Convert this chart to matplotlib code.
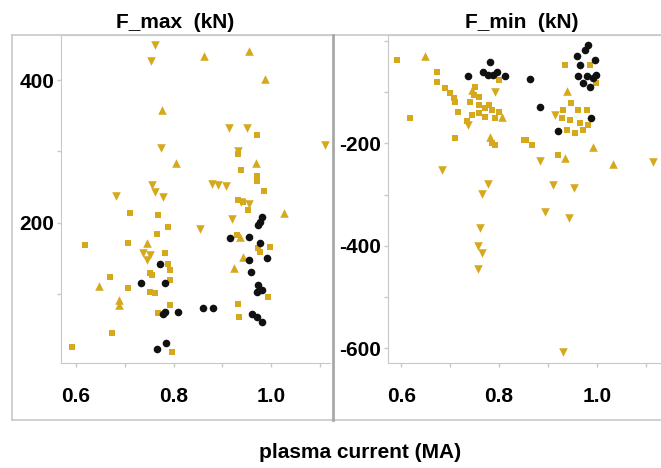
import matplotlib
matplotlib.use("Agg")
import matplotlib.pyplot as plt
from matplotlib.lines import Line2D
from matplotlib.ticker import MultipleLocator

plt.rcParams['font.family'] = ['Liberation Sans', 'DejaVu Sans']
plt.rcParams['font.weight'] = 'bold'
plt.rcParams['axes.unicode_minus'] = False

# ---- F_max panel (plasma current MA, force kN) ----
max_td_x = [0.762, 0.753, 0.774, 0.755, 0.762, 0.682, 0.914, 0.950, 0.932, 1.111, 0.878, 0.892,
            0.908, 0.919, 0.854, 0.938, 0.955, 0.738, 0.752, 0.745, 0.778]
max_td_y = [449, 426, 305, 253, 243, 237, 333, 333, 300, 309, 255, 253,
            251, 206, 192, 230, 227, 158, 155, 148, 236]
max_tu_x = [0.863, 0.955, 0.988, 0.776, 0.805, 0.969, 1.027, 0.745, 0.942, 0.925, 0.646, 0.689, 0.689, 0.936]
max_tu_y = [434, 440, 401, 358, 284, 284, 214, 172, 153, 137, 112, 92, 85, 181]
max_sq_x = [0.971, 0.932, 0.938, 0.971, 0.971, 0.986, 0.933, 0.943, 0.953, 0.974, 0.997, 0.977, 0.994,
            0.933, 0.935, 0.711, 0.769, 0.789, 0.765, 0.618, 0.707, 0.783, 0.793, 0.755, 0.670, 0.707,
            0.793, 0.752, 0.762, 0.793, 0.769, 0.673, 0.591, 0.796, 0.752, 0.789, 0.931]
max_sq_y = [323, 296, 274, 265, 258, 244, 232, 230, 218, 165, 167, 160, 97,
            86, 68, 214, 211, 194, 184, 169, 172, 158, 134, 127, 125, 109,
            120, 104, 102, 85, 74, 46, 26, 20, 130, 143, 183]
max_bk_x = [0.981, 0.977, 0.973, 0.915, 0.955, 0.977, 0.955, 0.992, 0.959, 0.974, 0.981, 0.971, 0.860,
            0.880, 0.960, 0.971, 0.981, 0.772, 0.733, 0.783, 0.783, 0.779, 0.810, 0.766, 0.784]
max_bk_y = [209, 202, 197, 179, 180, 172, 148, 151, 132, 113, 106, 104, 81,
            81, 72, 69, 62, 142, 116, 116, 76, 72, 76, 24, 32]

# ---- F_min panel ----
min_td_x = [0.792, 0.737, 0.914, 0.684, 0.778, 0.765, 0.884, 1.115, 0.910, 0.953, 0.894, 0.943,
            0.761, 0.756, 0.766, 0.756, 0.931]
min_td_y = [-99, -164, -144, -252, -279, -299, -234, -236, -281, -287, -333, -346,
            -366, -401, -415, -446, -607]
min_tu_x = [0.649, 0.806, 0.782, 0.938, 0.993, 1.032, 0.745, 0.935]
min_tu_y = [-30, -148, -187, -97, -207, -241, -96, -229]
min_sq_x = [0.592, 0.673, 0.673, 0.690, 0.700, 0.707, 0.710, 0.618, 0.716, 0.751, 0.748, 0.741, 0.758,
            0.771, 0.785, 0.799, 0.744, 0.758, 0.771, 0.734, 0.792, 0.709, 0.785, 0.792, 0.850, 0.799,
            0.935, 0.986, 0.999, 0.948, 0.931, 0.962, 0.979, 0.945, 0.965, 0.938, 0.955, 0.972, 0.982,
            0.928, 0.856, 0.867, 0.921, 0.780, 0.760]
min_sq_y = [-37, -60, -80, -92, -102, -111, -118, -151, -138, -89, -105, -118, -125,
            -131, -134, -138, -144, -141, -148, -157, -151, -190, -200, -203, -193, -76,
            -46, -46, -82, -121, -134, -134, -134, -154, -160, -174, -180, -174, -164,
            -151, -193, -203, -222, -125, -110]
min_bk_x = [0.737, 0.782, 0.768, 0.778, 0.788, 0.812, 0.795, 0.863, 0.884, 0.920, 0.988, 0.982,
            0.976, 0.959, 0.996, 0.965, 0.962, 0.979, 0.993, 0.972, 0.986, 0.999]
min_bk_y = [-68, -40, -60, -66, -66, -69, -60, -74, -129, -175, -151, -7,
            -17, -30, -37, -46, -69, -69, -72, -82, -89, -67]

gold = '#D6A91C'
dark = '#111111'
grid_c = '#c8c8c8'

W, H = 661, 468
fig = plt.figure(figsize=(W / 100, H / 100), dpi=100)

def fx(p):
    return p / W

def fy(p):
    return 1 - p / H

ax1 = fig.add_axes([fx(61), fy(363), 269 / W, 328 / H])
ax2 = fig.add_axes([fx(388), fy(363), 273 / W, 328 / H])

def draw(ax, td, tu, sq, bk):
    ax.scatter(sq[0], sq[1], marker='s', s=24, color=gold, linewidths=0)
    ax.scatter(tu[0], tu[1], marker='^', s=38, color=gold, linewidths=0)
    ax.scatter(td[0], td[1], marker='v', s=38, color=gold, linewidths=0)
    ax.scatter(bk[0], bk[1], marker='o', s=30, color=dark, linewidths=0)
    for side in ['left', 'bottom', 'top']:
        ax.spines[side].set_color(grid_c)
    ax.spines['right'].set_visible(False)
    ax.xaxis.set_major_locator(MultipleLocator(0.2))
    ax.xaxis.set_minor_locator(MultipleLocator(0.1))
    ax.yaxis.set_major_locator(MultipleLocator(200))
    ax.yaxis.set_minor_locator(MultipleLocator(100))
    ax.tick_params(which='both', colors=grid_c, length=3, width=1)
    ax.tick_params(axis='x', which='major', pad=14, labelsize=15, labelcolor='black')
    ax.tick_params(axis='y', which='major', pad=2, labelsize=15, labelcolor='black')
    ax.xaxis.set_major_formatter(matplotlib.ticker.FormatStrFormatter('%.1f'))
    for lab in ax.get_xticklabels() + ax.get_yticklabels():
        lab.set_fontweight('bold')

draw(ax1, (max_td_x, max_td_y), (max_tu_x, max_tu_y), (max_sq_x, max_sq_y), (max_bk_x, max_bk_y))
ax1.set_xlim(0.569, 1.121)
ax1.set_ylim(4, 463)
ax1.set_xticks([0.6, 0.8, 1.0])
ax1.set_yticks([200, 400])

draw(ax2, (min_td_x, min_td_y), (min_tu_x, min_tu_y), (min_sq_x, min_sq_y), (min_bk_x, min_bk_y))
ax2.set_xlim(0.573, 1.131)
ax2.set_ylim(-629, 12)
ax2.set_xticks([0.6, 0.8, 1.0])
ax2.set_yticks([-200, -400, -600])
ax2.yaxis.set_major_formatter(matplotlib.ticker.FormatStrFormatter('%d'))

# panel frames
fig.add_artist(Line2D([fx(12), fx(12)], [fy(35), fy(420)], color=grid_c, lw=1.2))
fig.add_artist(Line2D([fx(12), fx(661)], [fy(420), fy(420)], color=grid_c, lw=1.2))
fig.add_artist(Line2D([fx(12), fx(661)], [fy(35), fy(35)], color=grid_c, lw=1.2))
fig.add_artist(Line2D([fx(333), fx(333)], [fy(35), fy(420)], color='#a8a8a8', lw=2))

fig.text(fx(175), fy(22), 'F_max  (kN)', ha='center', va='center', fontsize=15, fontweight='bold')
fig.text(fx(522), fy(22), 'F_min  (kN)', ha='center', va='center', fontsize=15, fontweight='bold')
fig.text(fx(360), fy(453), 'plasma current (MA)', ha='center', va='center', fontsize=15, fontweight='bold')

fig.savefig('out.png', dpi=100)
